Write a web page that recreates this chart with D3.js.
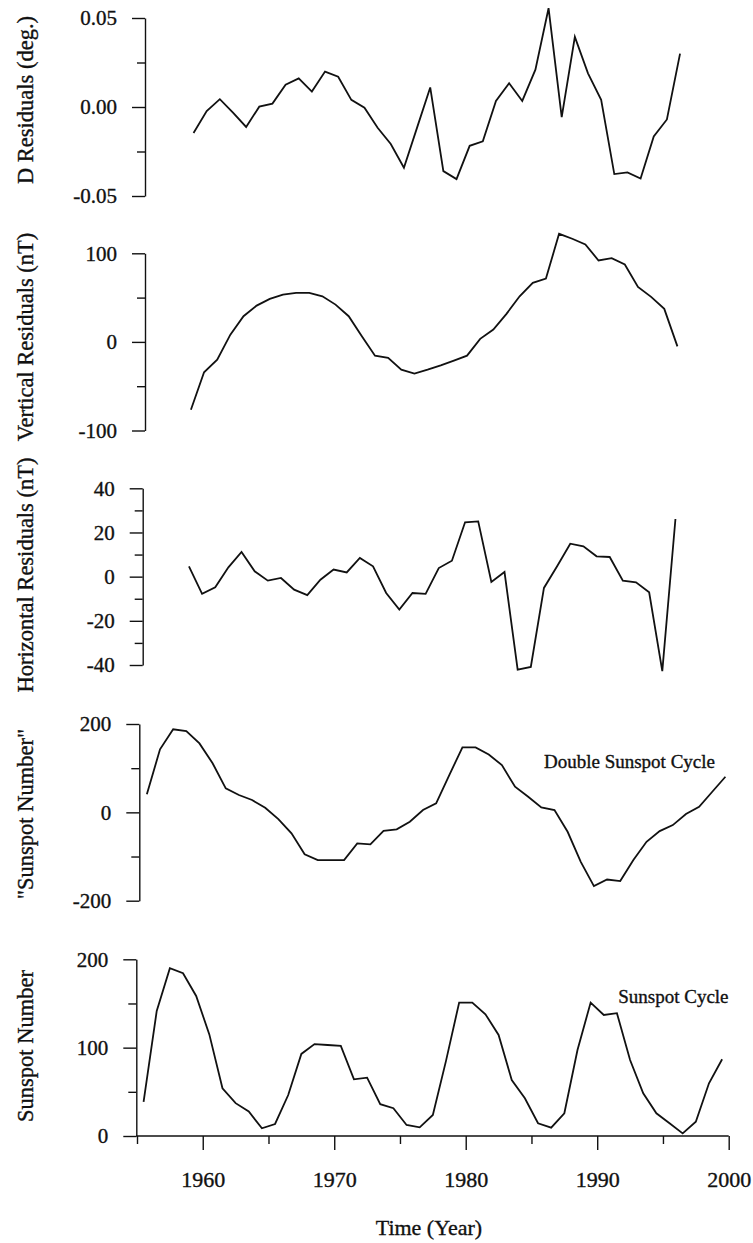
<!DOCTYPE html>
<html>
<head>
<meta charset="utf-8">
<script src="https://cdn.jsdelivr.net/npm/d3@7"></script>
<style>
  html, body { margin: 0; padding: 0; background: #fff; }
  svg { display: block; }
  text { font-family: "Liberation Serif", "Times New Roman", serif; fill: #111; stroke: #111; stroke-width: 0.35px; }
</style>
</head>
<body>
<svg id="chart" width="753" height="1243"></svg>
<script>
// ---------------- DATA ----------------
const dStartYear = 1959.3;
const dResiduals = [-0.0146, -0.0023, 0.0044, -0.0032, -0.0112, 0.0002, 0.0019, 0.0125, 0.0161, 0.0087,
  0.0199, 0.0170, 0.0040, -0.0004, -0.0117, -0.0208, -0.0341, -0.0116, 0.0110, -0.0360,
  -0.0405, -0.0218, -0.0193, 0.0034, 0.0133, 0.0034, 0.0210, 0.0555, -0.0057, 0.0394,
  0.0189, 0.0040, -0.0377, -0.0367, -0.0402, -0.0165, -0.0070, 0.0300];

const vStartYear = 1959.1;
const verticalResiduals = [-76.5, -34.3, -20, 8.2, 29, 41, 48.6, 53.4, 55.4, 55.4,
  51.5, 42.1, 29, 6.3, -15.5, -18, -31.3, -35.8, -31.3, -26.4,
  -21.1, -15.5, 3.4, 13.9, 31.6, 51.5, 66.7, 71.5, 122, 116.4,
  110, 91.9, 94.5, 87.3, 62.1, 50.8, 37.3, -5];

const hStartYear = 1958.95;
const horizontalResiduals = [4.7, -7.8, -4.8, 4.2, 11.2, 2.4, -1.8, -0.6, -5.9, -8.4,
  -1.4, 3.2, 1.9, 8.5, 4.7, -7.4, -14.9, -7.4, -7.8, 3.9,
  7.2, 24.6, 25, -2.4, 2.1, -42.1, -40.9, -5.1, 4.7, 14.9,
  13.7, 9.2, 8.9, -1.8, -2.6, -7.1, -42.8, 26.1];

const dsStartYear = 1955.75;
const doubleSunspot = [40.8, 142.7, 188, 184, 156, 111, 54.4, 39.2, 27.9, 10.4,
  -15.2, -47.6, -95, -108, -108, -108, -70.2, -72.5, -41.7, -38.5,
  -21.3, 5.2, 20.4, 84.5, 147, 147, 131, 107, 58, 35.3,
  11.3, 5.2, -44, -112, -167, -152, -155.6, -108, -66.6, -42.4,
  -28.8, -3.8, 12.7, 46.7, 80.6];

const ssStartYear = 1955.5;
const sunspotNumber = [38.5, 141.5, 190, 184.2, 158.5, 115, 54, 37.2, 27.7, 8.7,
  13.6, 46.4, 92.9, 104, 103, 102, 64.2, 66, 36, 31.4,
  12.5, 9.8, 23.8, 85, 151, 151, 137.8, 114.4, 63.4, 42.7,
  14.4, 9.4, 25.7, 97.4, 151, 137, 139, 86, 48.4, 25.7,
  14.4, 3, 16.2, 59.7, 86.9];

const xMajorTicks = [1960, 1970, 1980, 1990, 2000];
const xMinorTicks = [1955, 1965, 1975, 1985, 1995];

const panelTitles = ["D Residuals (deg.)", "Vertical Residuals (nT)", "Horizontal Residuals (nT)",
  "\"Sunspot Number\"", "Sunspot Number"];
const yMajorTicks = [[-0.05, 0, 0.05], [-100, 0, 100], [-40, -20, 0, 20, 40], [-200, 0, 200], [0, 100, 200]];
const yMinorTicks = [[-0.025, 0.025], [-50, 50], [-30, -10, 10, 30], [-100, 100], [50, 150]];
const yDomains = [[-0.05, 0.05], [-100, 100], [-40, 40], [-200, 200], [0, 200]];
const yTickFormats = [".2f", "d", "d", "d", "d"];
const annotations = [null, null, null, {text: "Double Sunspot Cycle", year: 1985.95, value: 100},
  {text: "Sunspot Cycle", year: 1991.6, value: 150}];

// ---------------- LAYOUT ----------------
const svg = d3.select("#chart");
const x = d3.scaleLinear().domain([1955, 2000]).range([137, 728.7]);

const panelLayout = [
  {axisX: 145, top: 18, bottom: 196, titleY: 100},
  {axisX: 145, top: 253.3, bottom: 430.5, titleY: 337},
  {axisX: 142.7, top: 488.3, bottom: 665, titleY: 575},
  {axisX: 139.3, top: 724, bottom: 900.7, titleY: 814},
  {axisX: 136.3, top: 959.3, bottom: 1136, titleY: 1046}
];

const series = [
  {start: dStartYear, values: dResiduals},
  {start: vStartYear, values: verticalResiduals},
  {start: hStartYear, values: horizontalResiduals},
  {start: dsStartYear, values: doubleSunspot},
  {start: ssStartYear, values: sunspotNumber}
];

const hyphenate = f => v => f(v).replace("\u2212", "-");

series.forEach((s, i) => {
  const L = panelLayout[i];
  const y = d3.scaleLinear().domain(yDomains[i]).range([L.bottom, L.top]);
  const g = svg.append("g");

  // minor ticks
  const minor = g.append("g")
    .attr("transform", `translate(${L.axisX},0)`)
    .call(d3.axisLeft(y).tickValues(yMinorTicks[i]).tickSize(8).tickFormat(""));
  minor.select(".domain").remove();

  // major ticks with labels
  const major = g.append("g")
    .attr("transform", `translate(${L.axisX},0)`)
    .call(d3.axisLeft(y).tickValues(yMajorTicks[i]).tickSize(13).tickSizeOuter(0)
      .tickPadding(15).tickFormat(hyphenate(d3.format(yTickFormats[i]))));
  major.selectAll("text").style("font-size", "21px").attr("font-family", null).attr("fill", null);

  g.selectAll(".tick line").attr("stroke", "#111").attr("stroke-width", 1.4);
  g.selectAll(".domain").attr("stroke", "#111").attr("stroke-width", 1.4);

  // title
  g.append("text")
    .attr("transform", `translate(33,${L.titleY}) rotate(-90)`)
    .attr("text-anchor", "middle")
    .style("font-size", "22.5px")
    .text(panelTitles[i]);

  // line
  const pts = s.values.map((v, k) => [s.start + k, v]);
  g.append("path")
    .datum(pts)
    .attr("fill", "none")
    .attr("stroke", "#111")
    .attr("stroke-width", 1.8)
    .attr("stroke-linejoin", "miter")
    .attr("d", d3.line().x(d => x(d[0])).y(d => y(d[1])));

  if (annotations[i]) {
    g.append("text")
      .attr("x", x(annotations[i].year))
      .attr("y", y(annotations[i].value))
      .style("font-size", "19px")
      .text(annotations[i].text);
  }

  if (i === series.length - 1) {
    const xMinor = svg.append("g")
      .attr("transform", `translate(0,${L.bottom})`)
      .call(d3.axisBottom(x).tickValues(xMinorTicks).tickSize(8).tickFormat(""));
    xMinor.select(".domain").remove();
    const xMajor = svg.append("g")
      .attr("transform", `translate(0,${L.bottom})`)
      .call(d3.axisBottom(x).tickValues(xMajorTicks).tickSize(14).tickSizeOuter(0)
        .tickPadding(21).tickFormat(d3.format("d")));
    xMajor.selectAll("text").style("font-size", "22px").attr("font-family", null).attr("fill", null);
    xMajor.select(".domain").attr("d", `M${L.axisX},0H${x(2000)}`);
    svg.selectAll(".tick line").attr("stroke", "#111").attr("stroke-width", 1.4);
    svg.selectAll(".domain").attr("stroke", "#111").attr("stroke-width", 1.4);

    svg.append("text")
      .attr("x", x(1977.2))
      .attr("y", L.bottom + 99)
      .attr("text-anchor", "middle")
      .style("font-size", "22px")
      .text("Time (Year)");
  }
});
</script>
</body>
</html>
